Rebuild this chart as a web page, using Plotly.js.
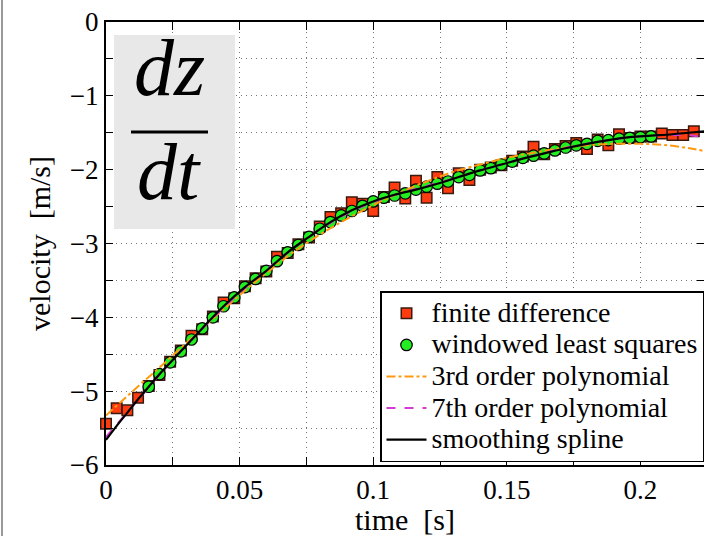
<!DOCTYPE html>
<html>
<head>
<meta charset="utf-8">
<script src="https://cdn.plot.ly/plotly-3.0.1.min.js"></script>
<style>html,body{margin:0;padding:0;background:#fff;}#chart{width:704px;height:536px;}</style>
</head>
<body>
<div id="chart"></div>
<script>
// finite difference samples
var fdTime = [0.000,0.004,0.008,0.012,0.016,0.020,0.024,0.028,0.032,0.036,0.040,0.044,0.048,0.052,0.056,0.060,0.064,0.068,0.072,0.076,0.080,0.084,0.088,0.092,0.096,0.100,0.104,0.108,0.112,0.116,0.120,0.124,0.128,0.132,0.136,0.140,0.144,0.148,0.152,0.156,0.160,0.164,0.168,0.172,0.176,0.180,0.184,0.188,0.192,0.196,0.200,0.204,0.208,0.212,0.216,0.220,0.224];
var fdVel = [-5.44,-5.23,-5.26,-5.09,-4.93,-4.78,-4.60,-4.45,-4.25,-4.16,-3.99,-3.80,-3.74,-3.58,-3.47,-3.38,-3.18,-3.13,-3.01,-2.92,-2.77,-2.64,-2.59,-2.44,-2.46,-2.56,-2.37,-2.24,-2.39,-2.15,-2.38,-2.10,-2.25,-2.05,-2.14,-2.00,-1.97,-1.94,-1.88,-1.82,-1.69,-1.79,-1.72,-1.68,-1.64,-1.72,-1.59,-1.67,-1.52,-1.57,-1.55,-1.55,-1.51,-1.53,-1.53,-1.48,-1.49];

// windowed least squares
var wlsTime = [0.016,0.020,0.024,0.028,0.032,0.036,0.040,0.044,0.048,0.052,0.056,0.060,0.064,0.068,0.072,0.076,0.080,0.084,0.088,0.092,0.096,0.100,0.104,0.108,0.112,0.116,0.120,0.124,0.128,0.132,0.136,0.140,0.144,0.148,0.152,0.156,0.160,0.164,0.168,0.172,0.176,0.180,0.184,0.188,0.192,0.196,0.200,0.204];
var wlsVel = [-4.94,-4.77,-4.61,-4.46,-4.30,-4.15,-4.00,-3.85,-3.73,-3.59,-3.48,-3.37,-3.24,-3.12,-3.02,-2.91,-2.80,-2.71,-2.62,-2.56,-2.49,-2.43,-2.38,-2.35,-2.32,-2.27,-2.23,-2.19,-2.16,-2.10,-2.07,-2.01,-1.98,-1.93,-1.89,-1.84,-1.81,-1.78,-1.74,-1.70,-1.67,-1.65,-1.61,-1.60,-1.58,-1.57,-1.56,-1.55];

// polynomial fits
var polyTime = [0,0.01,0.02,0.03,0.04,0.05,0.06,0.07,0.08,0.09,0.10,0.11,0.12,0.13,0.14,0.15,0.16,0.17,0.18,0.19,0.20,0.21,0.22,0.224];
var poly3Vel = [-5.33,-5.00,-4.68,-4.35,-4.02,-3.70,-3.40,-3.12,-2.88,-2.67,-2.48,-2.31,-2.16,-2.03,-1.93,-1.84,-1.77,-1.71,-1.67,-1.65,-1.65,-1.67,-1.72,-1.75];
var poly7Vel = [-5.62,-5.20,-4.78,-4.38,-4.01,-3.67,-3.36,-3.07,-2.81,-2.60,-2.44,-2.32,-2.22,-2.12,-2.01,-1.91,-1.81,-1.72,-1.65,-1.59,-1.55,-1.53,-1.54,-1.57];

// smoothing spline
var splTime = [0,0.004,0.008,0.012,0.016,0.020,0.028,0.036,0.044,0.052,0.060,0.068,0.076,0.084,0.092,0.100,0.108,0.116,0.124,0.132,0.140,0.148,0.156,0.164,0.172,0.180,0.188,0.196,0.204,0.212,0.218,0.224];
var splVel = [-5.66,-5.47,-5.29,-5.11,-4.94,-4.77,-4.46,-4.15,-3.85,-3.59,-3.37,-3.12,-2.91,-2.71,-2.55,-2.43,-2.34,-2.27,-2.19,-2.10,-2.01,-1.93,-1.85,-1.78,-1.71,-1.65,-1.60,-1.56,-1.54,-1.52,-1.50,-1.48];

var seriesNames = ['finite difference','windowed least squares','3rd order polynomial','7th order polynomial','smoothing spline'];

var xTickVals = [0,0.025,0.05,0.075,0.1,0.125,0.15,0.175,0.2];
var xTickText = ['0','','0.05','','0.1','','0.15','','0.2'];
var yTickVals = [-6,-5.5,-5,-4.5,-4,-3.5,-3,-2.5,-2,-1.5,-1,-0.5,0];
var yTickText = ['\u22126','','\u22125','','\u22124','','\u22123','','\u22122','','\u22121','','0'];

var serif = 'Liberation Serif, Times New Roman, serif';
function lg(s) { return '<span style="font-size:28px">' + s + '</span>'; }

var traces = [
  {x: fdTime, y: fdVel, type: 'scatter', mode: 'markers', name: lg(seriesNames[0]), cliponaxis: false,
   marker: {symbol: 'square', size: 10.5, color: '#ff3c10', line: {color: '#3a1a10', width: 1.5}}},
  {x: wlsTime, y: wlsVel, type: 'scatter', mode: 'markers', name: lg(seriesNames[1]), cliponaxis: false,
   marker: {symbol: 'circle', size: 11.5, color: '#22ee22', line: {color: '#000', width: 1.2}}},
  {x: polyTime, y: poly3Vel, type: 'scatter', mode: 'lines', name: lg(seriesNames[2]),
   line: {color: '#ff9a10', width: 2, dash: 'dashdot', shape: 'spline'}},
  {x: polyTime, y: poly7Vel, type: 'scatter', mode: 'lines', name: lg(seriesNames[3]),
   line: {color: '#d63cd0', width: 2, dash: 'dash', shape: 'spline'}},
  {x: splTime, y: splVel, type: 'scatter', mode: 'lines', name: lg(seriesNames[4]),
   line: {color: '#000', width: 2.2, shape: 'spline'}}
];

var layout = {
  width: 704, height: 536,
  margin: {l: 106, r: 0, t: 22, b: 71},
  paper_bgcolor: '#fff', plot_bgcolor: '#fff',
  font: {family: serif, color: '#000', size: 27},
  showlegend: true,
  legend: {x: 1, xanchor: 'right', y: (465-291)/443, yanchor: 'top',
    bgcolor: '#fff', bordercolor: '#000', borderwidth: 1.5,
    font: {family: serif, size: 22, color: '#000'}, itemwidth: 40, tracegroupgap: 0},
  xaxis: {range: [0, 0.2238], tickvals: xTickVals, ticktext: xTickText,
    showline: true, linecolor: '#000', linewidth: 2, mirror: 'ticks',
    ticks: 'inside', ticklen: 8, tickwidth: 1, tickcolor: '#000',
    showgrid: true, gridcolor: '#777', griddash: '1px,4px', gridwidth: 1,
    zeroline: false, tickfont: {family: serif, size: 27},
    title: {text: 'time\u00a0\u00a0[s]', font: {family: serif, size: 30}, standoff: 6}},
  yaxis: {range: [-6, 0], tickvals: yTickVals, ticktext: yTickText,
    showline: true, linecolor: '#000', linewidth: 2, mirror: 'ticks',
    ticks: 'inside', ticklen: 7, tickwidth: 1, tickcolor: '#000',
    showgrid: true, gridcolor: '#777', griddash: '1px,4px', gridwidth: 1,
    zeroline: false, tickfont: {family: serif, size: 27},
    title: {text: 'velocity\u00a0\u00a0[m/s]', font: {family: serif, size: 30}, standoff: 10}},
  shapes: [
    {type: 'rect', xref: 'paper', yref: 'paper', x0: (114-106)/598, x1: (235-106)/598,
     y0: (465-229)/443, y1: (465-35)/443, fillcolor: '#e8e8e8', line: {width: 0}, layer: 'above'},
    {type: 'line', xref: 'paper', yref: 'paper', x0: (131-106)/598, x1: (208-106)/598,
     y0: (465-132)/443, y1: (465-132)/443, line: {color: '#000', width: 3}, layer: 'above'},
    {type: 'line', xref: 'paper', yref: 'paper', x0: (2-106)/598, x1: (2-106)/598,
     y0: -71/443, y1: 465/443, line: {color: '#777', width: 1.5}}
  ],
  annotations: [
    {xref: 'paper', yref: 'paper', x: (169-106)/598, y: (465-68)/443, xanchor: 'center', yanchor: 'middle',
     text: '<i>dz</i>', showarrow: false, font: {family: serif, size: 80, color: '#000'}},
    {xref: 'paper', yref: 'paper', x: (169-106)/598, y: (465-172)/443, xanchor: 'center', yanchor: 'middle',
     text: '<i>dt</i>', showarrow: false, font: {family: serif, size: 80, color: '#000'}}
  ]
};

Plotly.newPlot('chart', traces, layout, {displayModeBar: false, staticPlot: true});
</script>
</body>
</html>
